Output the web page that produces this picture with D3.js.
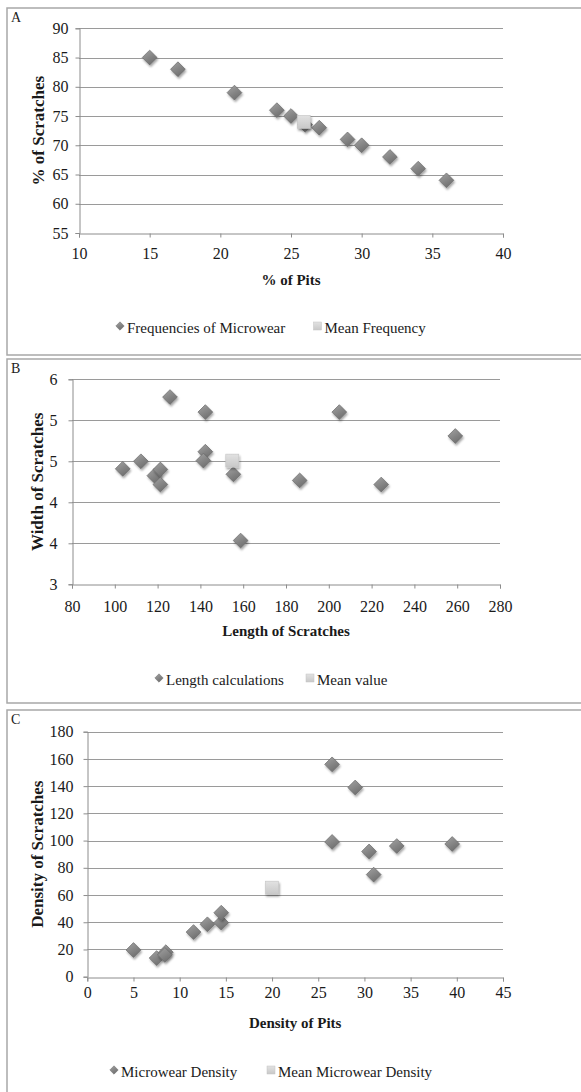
<!DOCTYPE html>
<html>
<head>
<meta charset="utf-8">
<script src="https://cdn.jsdelivr.net/npm/d3@7"></script>
<style>
  body { margin: 0; background: #fff; }
  svg { display: block; font-family: "Liberation Serif", "DejaVu Serif", serif; }
</style>
</head>
<body>
<script>
// panel A: frequencies of microwear
var pitsPct      = [15, 17, 21, 24, 25, 26, 27, 29, 30, 32, 34, 36];
var scratchesPct = [85, 83, 79, 76, 75, 73.5, 73, 71, 70, 68, 66, 64];
var meanFreq     = [[25.9, 74]];
var ticksA_x = [10, 15, 20, 25, 30, 35, 40];
var ticksA_y = [55, 60, 65, 70, 75, 80, 85, 90];

// panel B: scratch length vs width
var scratchLength = [103.7, 112.2, 118.5, 121.3, 121.3, 125.8, 142.3, 142.3, 141.4, 155.4, 158.8, 186.4, 204.9, 224.5, 259.1];
var scratchWidth  = [4.69, 4.80, 4.59, 4.68, 4.46, 5.74, 5.52, 4.94, 4.81, 4.61, 3.64, 4.52, 5.52, 4.46, 5.17];
var meanLength    = [[154.9, 4.81]];
var ticksB_x = [80, 100, 120, 140, 160, 180, 200, 220, 240, 260, 280];
var ticksB_y = [3, 3.6, 4.2, 4.8, 5.4, 6];

// panel C: densities
var pitDensity     = [5, 7.5, 8.5, 8.4, 11.5, 13, 14.5, 14.5, 26.5, 29, 26.5, 30.5, 33.5, 31, 39.5];
var scratchDensity = [19.6, 13.7, 18, 16, 32.8, 38.5, 39.7, 47, 156, 139, 99, 92, 96, 75, 97.5];
var meanDensity    = [[20, 65.4]];
var ticksC_x = [0, 5, 10, 15, 20, 25, 30, 35, 40, 45];
var ticksC_y = [0, 20, 40, 60, 80, 100, 120, 140, 160, 180];

var W = 581, H = 1092;
var svg = d3.select("body").append("svg").attr("width", W).attr("height", H);

var defs = svg.append("defs");
var g1 = defs.append("linearGradient").attr("id", "diaFill")
  .attr("x1", "0").attr("y1", "0").attr("x2", "0.6").attr("y2", "1");
g1.append("stop").attr("offset", "0").attr("stop-color", "#a4a4a4");
g1.append("stop").attr("offset", "1").attr("stop-color", "#6f6f6f");
var g2 = defs.append("linearGradient").attr("id", "sqFill")
  .attr("x1", "0").attr("y1", "0").attr("x2", "0").attr("y2", "1");
g2.append("stop").attr("offset", "0").attr("stop-color", "#e2e2e2");
g2.append("stop").attr("offset", "1").attr("stop-color", "#c8c8c8");
var sh = defs.append("filter").attr("id", "shadow")
  .attr("x", "-50%").attr("y", "-50%").attr("width", "200%").attr("height", "200%");
sh.append("feDropShadow").attr("dx", 1).attr("dy", 2).attr("stdDeviation", 1.2)
  .attr("flood-color", "#000").attr("flood-opacity", 0.35);

function diamond(r) {
  return "M0," + (-r) + "L" + r + ",0L0," + r + "L" + (-r) + ",0Z";
}

function panel(cfg) {
  var g = svg.append("g");

  // frame
  g.append("path")
    .attr("d", "M" + (W + 2) + "," + cfg.top + "H7V" + cfg.bottom + "H" + (W + 2))
    .attr("fill", "none").attr("stroke", "#a8a8a8").attr("stroke-width", 1.5);

  g.append("text").attr("x", 11).attr("y", cfg.top + 14)
    .attr("font-size", 14).attr("fill", "#222").text(cfg.letter);

  var x = d3.scaleLinear().domain(cfg.xDomain).range([cfg.left, cfg.right]);
  var y = d3.scaleLinear().domain(cfg.yDomain).range([cfg.y0, cfg.y1]);

  // gridlines
  g.append("g").selectAll("line").data(cfg.yTicks.slice(1)).join("line")
    .attr("x1", cfg.left).attr("x2", cfg.right)
    .attr("y1", function(d) { return Math.round(y(d)) + 0.5; })
    .attr("y2", function(d) { return Math.round(y(d)) + 0.5; })
    .attr("stroke", "#9a9a9a").attr("stroke-width", 1);

  var ya = g.append("g").attr("transform", "translate(" + (Math.round(cfg.left) + 0.5) + ",0)")
    .call(d3.axisLeft(y).tickValues(cfg.yTicks).tickSize(4).tickPadding(cfg.yPad)
      .tickFormat(cfg.yFormat || d3.format("d")));
  var xa = g.append("g").attr("transform", "translate(0," + (Math.round(cfg.y0) + 0.5) + ")")
    .call(d3.axisBottom(x).tickValues(cfg.xTicks).tickSize(4).tickPadding(cfg.xPad)
      .tickFormat(d3.format("d")));
  [ya, xa].forEach(function(a) {
    a.select(".domain").attr("stroke", "#8c8c8c");
    a.selectAll(".tick line").attr("stroke", "#8c8c8c");
    a.selectAll("text").attr("font-size", 16).attr("fill", "#1a1a1a")
      .attr("font-family", "Liberation Serif, serif");
  });

  // axis titles
  g.append("text").attr("x", (cfg.left + cfg.right) / 2).attr("y", cfg.xTitleY)
    .attr("text-anchor", "middle").attr("font-size", 15).attr("font-weight", "bold")
    .attr("fill", "#1a1a1a").text(cfg.xTitle);
  g.append("text")
    .attr("transform", "translate(" + cfg.yTitleX + "," + ((cfg.y0 + cfg.y1) / 2) + ") rotate(-90)")
    .attr("text-anchor", "middle").attr("font-size", 17).attr("font-weight", "bold")
    .attr("fill", "#1a1a1a").text(cfg.yTitle);

  // points
  var pts = d3.zip(cfg.xs, cfg.ys);
  g.append("g").selectAll("path").data(pts).join("path")
    .attr("d", diamond(7.4))
    .attr("transform", function(d) { return "translate(" + x(d[0]) + "," + y(d[1]) + ")"; })
    .attr("fill", "url(#diaFill)").attr("stroke", "#6a6a6a").attr("stroke-width", 0.7)
    .attr("filter", "url(#shadow)");
  g.append("g").selectAll("rect").data(cfg.mean).join("rect")
    .attr("x", function(d) { return x(d[0]) - 6.5; })
    .attr("y", function(d) { return y(d[1]) - 6.5; })
    .attr("width", 13).attr("height", 13)
    .attr("fill", "url(#sqFill)").attr("stroke", "#c4c4c4").attr("stroke-width", 0.6)
    .attr("filter", "url(#shadow)");

  // legend
  var lg = g.append("g").attr("transform", "translate(0," + cfg.legendY + ")");
  lg.append("path").attr("d", diamond(4.2))
    .attr("transform", "translate(" + cfg.legend[0] + ",-2)")
    .attr("fill", "url(#diaFill)").attr("stroke", "#6a6a6a").attr("stroke-width", 0.5);
  lg.append("text").attr("x", cfg.legend[0] + 7).attr("y", 5)
    .attr("font-size", 15).attr("fill", "#1a1a1a").text(cfg.legendText[0]);
  lg.append("rect").attr("x", cfg.legend[1] - 4).attr("y", -6).attr("width", 8).attr("height", 8)
    .attr("fill", "url(#sqFill)").attr("stroke", "#c4c4c4").attr("stroke-width", 0.5);
  lg.append("text").attr("x", cfg.legend[1] + 7).attr("y", 5)
    .attr("font-size", 15).attr("fill", "#1a1a1a").text(cfg.legendText[1]);
}

panel({
  letter: "A", top: 8, bottom: 355,
  left: 79, right: 503, y0: 233, y1: 28.3,
  xDomain: [10, 40], yDomain: [55, 90], xTicks: ticksA_x, yTicks: ticksA_y,
  xs: pitsPct, ys: scratchesPct, mean: meanFreq,
  yPad: 7, xPad: 10, xTitle: "% of Pits", xTitleY: 285, yTitle: "% of Scratches", yTitleX: 44,
  legendY: 328, legend: [120, 317.5], legendText: ["Frequencies of Microwear", "Mean Frequency"]
});

panel({
  letter: "B", top: 359, bottom: 703,
  left: 72, right: 500, y0: 584.3, y1: 379.3,
  xDomain: [80, 280], yDomain: [3, 6], xTicks: ticksB_x, yTicks: ticksB_y,
  yFormat: function(d) { return Math.round(d); },
  xs: scratchLength, ys: scratchWidth, mean: meanLength,
  yPad: 11, xPad: 12, xTitle: "Length of Scratches", xTitleY: 636, yTitle: "Width of Scratches", yTitleX: 43,
  legendY: 680, legend: [159, 310], legendText: ["Length calculations", "Mean value"]
});

panel({
  letter: "C", top: 710, bottom: H + 10,
  left: 87.3, right: 503, y0: 976.7, y1: 731.7,
  xDomain: [0, 45], yDomain: [0, 180], xTicks: ticksC_x, yTicks: ticksC_y,
  xs: pitDensity, ys: scratchDensity, mean: meanDensity,
  yPad: 10, xPad: 5, xTitle: "Density of Pits", xTitleY: 1028, yTitle: "Density of Scratches", yTitleX: 43,
  legendY: 1072, legend: [114, 271], legendText: ["Microwear Density", "Mean Microwear Density"]
});
</script>
</body>
</html>
